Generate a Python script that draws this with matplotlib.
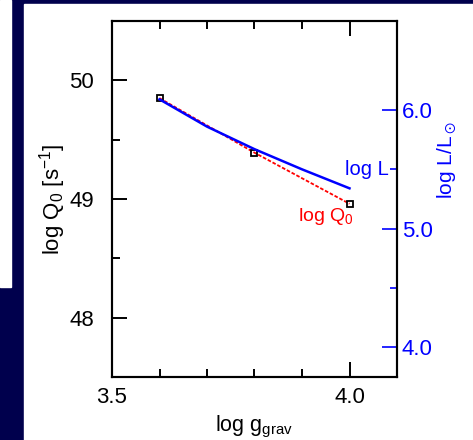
import matplotlib
matplotlib.use("Agg")
import matplotlib.pyplot as plt
from matplotlib.patches import Rectangle
from matplotlib.ticker import FixedLocator, MultipleLocator

# log g_grav, where the models were computed
log_g = [3.6, 3.8, 4.0]
log_q0 = [49.85, 49.39, 48.96]

# log L curve
log_g_l = [3.6, 3.7, 3.8, 3.9, 4.0]
log_l = [6.09, 5.86, 5.67, 5.50, 5.34]

NAVY = "#00004d"
BLUE = "#0000ff"
RED = "#ff0000"
OUTPUT_PNG = "out.png"


def main():
    plt.rcParams["font.family"] = ["Liberation Sans", "DejaVu Sans"]
    plt.rcParams["mathtext.fontset"] = "custom"
    plt.rcParams["mathtext.rm"] = "Liberation Sans"
    plt.rcParams["mathtext.it"] = "Liberation Sans:italic"
    plt.rcParams["mathtext.default"] = "regular"

    W, H = 473, 440
    fig = plt.figure(figsize=(W / 100, H / 100), dpi=100, facecolor=NAVY)

    # white slide areas behind the plot (zorder below the axes)
    fig.patches.append(Rectangle((24 / W, 0), (W - 24) / W, 436 / H,
                                 transform=fig.transFigure, color="white", zorder=-5))
    fig.patches.append(Rectangle((0, (H - 287) / H), 11 / W, 287 / H,
                                 transform=fig.transFigure, color="white", zorder=-5))

    ax = fig.add_axes([112 / W, (H - 377) / H, 285 / W, 356 / H])
    ax.set_facecolor("none")

    # 1) log Q0 - dashed red with open squares
    ax.plot(log_g, log_q0, color=RED, lw=1.3, ls=(0, (2.0, 1.0)),
            marker="s", ms=4, mfc="none", mec="black", mew=1.3)

    ax.set_xlim(3.5, 4.1)
    ax.set_ylim(47.5, 50.5)
    ax.xaxis.set_minor_locator(MultipleLocator(0.1))
    ax.yaxis.set_minor_locator(MultipleLocator(0.5))
    ax.set_xticks([3.5, 4.0], ["3.5", "4.0"])
    ax.set_yticks([48, 49, 50], ["48", "49", "50"])

    ax.tick_params(which="both", direction="in", top=True, right=False,
                   width=1.4, colors="black", labelsize=16)
    ax.tick_params(axis="y", which="both", pad=13)
    ax.tick_params(axis="x", which="both", pad=7)
    ax.tick_params(which="major", length=11)
    ax.tick_params(which="minor", length=5.5)
    for sp in ax.spines.values():
        sp.set_linewidth(1.5)

    ax.set_xlabel("log g$_{grav}$", fontsize=15.5)
    ax.xaxis.set_label_coords(0.5, -0.105)
    ax.set_ylabel("log Q$_0$ [s$^{-1}$]", fontsize=16)
    ax.yaxis.set_label_coords(-0.155, 0.5)

    ax.text(4.008, 48.85, "log Q$_0$", color=RED, fontsize=14,
            ha="right", va="center")

    # 2) log L on the right axis
    ax2 = ax.twinx()
    ax2.plot(log_g_l, log_l, color=BLUE, lw=1.8)
    ax2.set_ylim(3.75, 6.75)
    ax2.set_yticks([4.0, 5.0, 6.0], ["4.0", "5.0", "6.0"])
    ax2.yaxis.set_minor_locator(FixedLocator([4.5, 5.5]))
    ax2.tick_params(axis="y", which="both", direction="in", color=BLUE,
                    labelcolor=BLUE, width=1.2, labelsize=16, pad=3.5)
    ax2.tick_params(which="major", length=10.5)
    ax2.tick_params(which="minor", length=5)
    for sp in ax2.spines.values():
        sp.set_linewidth(1.5)

    ax2.set_ylabel(r"log L/L$_\odot$", color=BLUE, fontsize=15)
    ax2.yaxis.set_label_coords(1.133, 0.61)

    ax2.text(4.082, 5.5, "log L", color=BLUE, fontsize=14.5,
             ha="right", va="center")

    plt.savefig(OUTPUT_PNG, dpi=100, facecolor=NAVY)


if __name__ == "__main__":
    main()
